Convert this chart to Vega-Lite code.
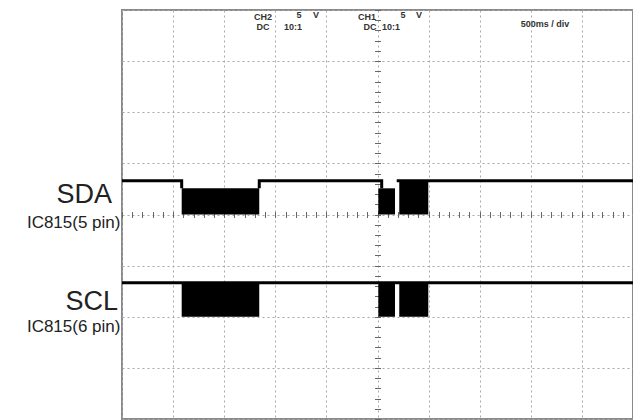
{
  "$schema": "https://vega.github.io/schema/vega-lite/v6.json",
  "width": 511,
  "height": 409,
  "autosize": "none",
  "padding": {"left": 122, "top": 10, "right": 0, "bottom": 1},
  "background": "white",
  "config": {
    "view": {"stroke": "#8a8a8a", "strokeWidth": 2},
    "font": "Liberation Sans"
  },
  "datasets": {
    "bursts": [
      {"sig": "SDA", "t0": 584, "t1": 1343, "v0": 0, "v1": 2.56},
      {"sig": "SDA", "t0": 2508, "t1": 2671, "v0": 0, "v1": 2.56},
      {"sig": "SDA", "t0": 2713, "t1": 2997, "v0": 0, "v1": 3.3},
      {"sig": "SCL", "t0": 584, "t1": 1343, "v0": -10, "v1": -6.67},
      {"sig": "SCL", "t0": 2508, "t1": 2671, "v0": -10, "v1": -6.67},
      {"sig": "SCL", "t0": 2713, "t1": 2997, "v0": -10, "v1": -6.67}
    ],
    "trace": [
      {"seg": "SDA-1", "i": 1, "t": 0, "v": 3.3},
      {"seg": "SDA-1", "i": 2, "t": 584, "v": 3.3},
      {"seg": "SDA-1", "i": 3, "t": 584, "v": 2.56},
      {"seg": "SDA-2", "i": 1, "t": 1343, "v": 2.56},
      {"seg": "SDA-2", "i": 2, "t": 1343, "v": 3.3},
      {"seg": "SDA-2", "i": 3, "t": 2541, "v": 3.3},
      {"seg": "SDA-2", "i": 4, "t": 2541, "v": 2.56},
      {"seg": "SDA-3", "i": 1, "t": 2688, "v": 3.3},
      {"seg": "SDA-3", "i": 2, "t": 5000, "v": 3.3},
      {"seg": "SCL-1", "i": 1, "t": 0, "v": -6.67},
      {"seg": "SCL-1", "i": 2, "t": 5000, "v": -6.67}
    ],
    "names": [
      {"label": "SDA", "t": -98, "v": 1.125},
      {"label": "SCL", "t": -39, "v": -9.34}
    ],
    "pins": [
      {"label": "IC815(5 pin)", "t": -15, "v": -1.32},
      {"label": "IC815(6 pin)", "t": -15, "v": -11.5}
    ],
    "notes": [
      {"label": "CH2", "t": 1380, "v": 19.03, "a": "right"},
      {"label": "DC", "t": 1380, "v": 18.05, "a": "right"},
      {"label": "5", "t": 1732, "v": 19.23, "a": "center"},
      {"label": "V", "t": 1898, "v": 19.23, "a": "center"},
      {"label": "10:1", "t": 1673, "v": 18.05, "a": "center"},
      {"label": "CH1", "t": 2397, "v": 19.03, "a": "right"},
      {"label": "DC", "t": 2427, "v": 18.05, "a": "right"},
      {"label": "5", "t": 2750, "v": 19.23, "a": "center"},
      {"label": "V", "t": 2906, "v": 19.23, "a": "center"},
      {"label": "10:1", "t": 2632, "v": 18.05, "a": "center"},
      {"label": "500ms / div", "t": 4139, "v": 18.35, "a": "left"}
    ]
  },
  "layer": [
    {
      "data": {"name": "bursts"},
      "mark": {"type": "rect", "color": "black"},
      "encoding": {
        "x": {
          "field": "t0", "type": "quantitative",
          "scale": {"domain": [0, 5000], "nice": false, "zero": false},
          "axis": {
            "orient": "bottom", "values": [0, 500, 1000, 1500, 2000, 2500, 3000, 3500, 4000, 4500, 5000],
            "grid": true, "gridColor": "#a8a8a8", "gridDash": [2, 3], "gridWidth": 1,
            "labels": false, "ticks": false, "domain": false, "title": null
          }
        },
        "x2": {"field": "t1"},
        "y": {
          "field": "v0", "type": "quantitative",
          "scale": {"domain": [-20, 20], "nice": false, "zero": false},
          "axis": {
            "orient": "left", "values": [-20, -15, -10, -5, 0, 5, 10, 15, 20],
            "grid": true, "gridColor": "#a8a8a8", "gridDash": [2, 3], "gridWidth": 1,
            "labels": false, "ticks": false, "domain": false, "title": null
          }
        },
        "y2": {"field": "v1"}
      }
    },
    {
      "data": {"name": "trace"},
      "mark": {"type": "line", "color": "black", "strokeWidth": 3, "strokeCap": "butt"},
      "encoding": {
        "x": {
          "field": "t", "type": "quantitative",
          "scale": {"domain": [0, 5000], "nice": false, "zero": false},
          "axis": {
            "orient": "bottom", "offset": -207.5,
            "values": [0,100,200,300,400,500,600,700,800,900,1000,1100,1200,1300,1400,1500,1600,1700,1800,1900,2000,2100,2200,2300,2400,2500,2600,2700,2800,2900,3000,3100,3200,3300,3400,3500,3600,3700,3800,3900,4000,4100,4200,4300,4400,4500,4600,4700,4800,4900,5000],
            "ticks": true, "tickSize": 6, "tickColor": "#666", "tickWidth": 1,
            "labels": false, "domain": false, "grid": false, "title": null
          }
        },
        "y": {
          "field": "v", "type": "quantitative",
          "scale": {"domain": [-20, 20], "nice": false, "zero": false},
          "axis": {
            "orient": "left", "offset": -258.5,
            "values": [-20,-19,-18,-17,-16,-15,-14,-13,-12,-11,-10,-9,-8,-7,-6,-5,-4,-3,-2,-1,0,1,2,3,4,5,6,7,8,9,10,11,12,13,14,15,16,17,18,19,20],
            "ticks": true, "tickSize": 6, "tickColor": "#666", "tickWidth": 1,
            "labels": false, "domain": false, "grid": false, "title": null
          }
        },
        "detail": {"field": "seg"},
        "order": {"field": "i", "type": "quantitative"}
      }
    },
    {
      "data": {"name": "names"},
      "mark": {"type": "text", "fontSize": 27, "align": "right", "baseline": "alphabetic", "color": "#222", "letterSpacing": 0.5},
      "encoding": {
        "x": {"field": "t", "type": "quantitative", "scale": {"domain": [0, 5000], "nice": false, "zero": false}, "axis": null},
        "y": {"field": "v", "type": "quantitative", "scale": {"domain": [-20, 20], "nice": false, "zero": false}, "axis": null},
        "text": {"field": "label"}
      }
    },
    {
      "data": {"name": "pins"},
      "mark": {"type": "text", "fontSize": 17, "align": "right", "baseline": "alphabetic", "color": "#222", "letterSpacing": 0.3},
      "encoding": {
        "x": {"field": "t", "type": "quantitative", "scale": {"domain": [0, 5000], "nice": false, "zero": false}, "axis": null},
        "y": {"field": "v", "type": "quantitative", "scale": {"domain": [-20, 20], "nice": false, "zero": false}, "axis": null},
        "text": {"field": "label"}
      }
    },
    {
      "data": {"name": "notes"},
      "mark": {"type": "text", "fontSize": 9, "fontWeight": "bold", "baseline": "alphabetic", "color": "#333"},
      "encoding": {
        "x": {"field": "t", "type": "quantitative", "scale": {"domain": [0, 5000], "nice": false, "zero": false}, "axis": null},
        "y": {"field": "v", "type": "quantitative", "scale": {"domain": [-20, 20], "nice": false, "zero": false}, "axis": null},
        "text": {"field": "label"},
        "align": {"field": "a", "type": "nominal", "scale": null}
      }
    }
  ],
  "resolve": {"axis": {"x": "independent", "y": "independent"}}
}
